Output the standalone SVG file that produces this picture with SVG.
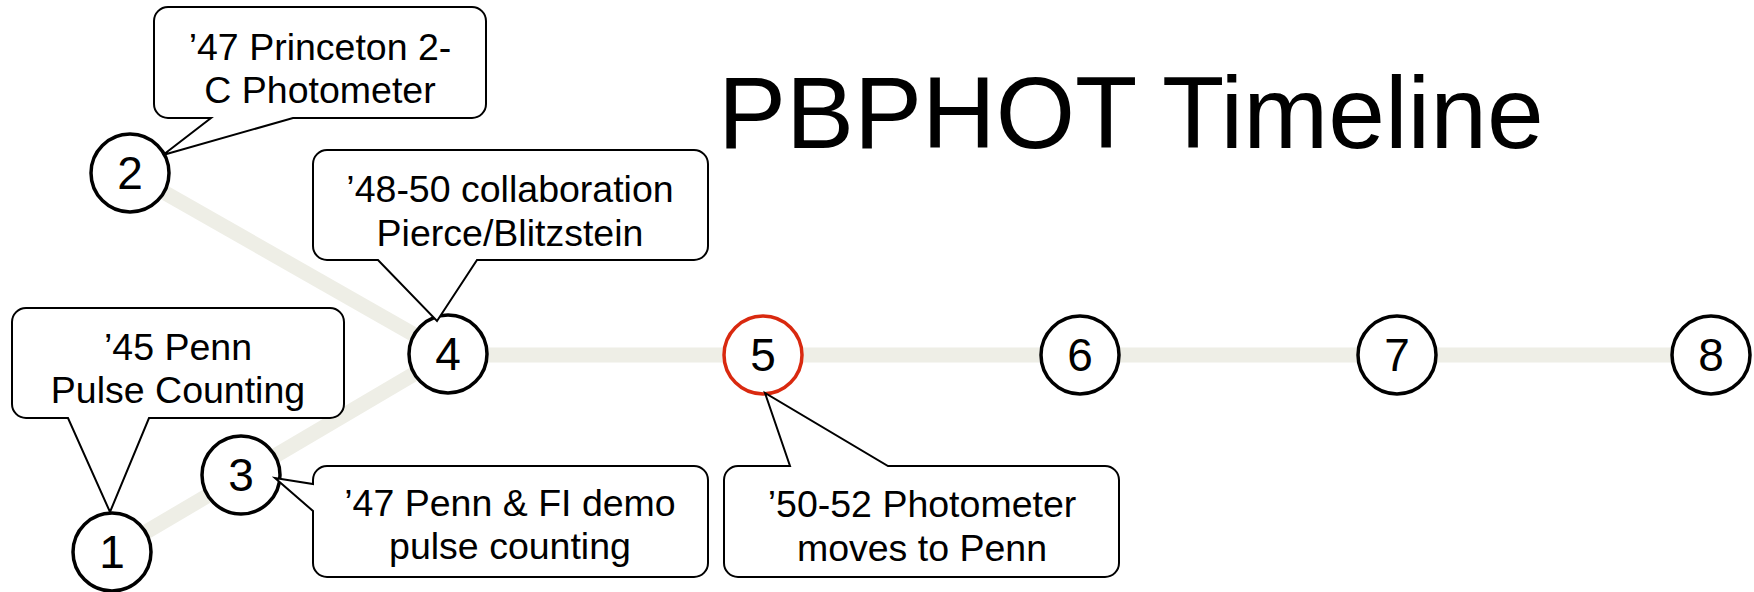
<svg xmlns="http://www.w3.org/2000/svg" width="1754" height="592" viewBox="0 0 1754 592">
<style>
.link{stroke:#eeeee6;stroke-width:15;fill:none}
.node circle{fill:#fff;stroke:#000;stroke-width:3.5}
.node.hl circle{stroke:#d9290f}
.num{font-family:"Liberation Sans",Arial,sans-serif;font-size:46px;text-anchor:middle;fill:#000}
.callout path{fill:#fff;stroke:#000;stroke-width:2;stroke-linejoin:miter}
.callout text{font-family:"Liberation Sans",Arial,sans-serif;font-size:37.5px;text-anchor:middle;fill:#000}
.title{font-family:"Liberation Sans",Arial,sans-serif;font-size:102px;fill:#000}
</style>
<rect width="1754" height="592" fill="#fff"/>
<g id="connectors">
<line class="link" x1="112" y1="552" x2="448" y2="354"/>
<line class="link" x1="130" y1="173" x2="448" y2="354"/>
<line class="link" x1="448" y1="355" x2="1711" y2="355"/>
</g>
<text class="title" x="718" y="148">PBPHOT Timeline</text>
<g id="node1" class="node"><circle cx="112" cy="552" r="39"/><text class="num" x="112" y="568">1</text></g>
<g id="node2" class="node"><circle cx="130" cy="173" r="39"/><text class="num" x="130" y="189">2</text></g>
<g id="node3" class="node"><circle cx="241" cy="475" r="39"/><text class="num" x="241" y="491">3</text></g>
<g id="node4" class="node"><circle cx="448" cy="354" r="39"/><text class="num" x="448" y="370">4</text></g>
<g id="node5" class="node hl"><circle cx="763" cy="355" r="39"/><text class="num" x="763" y="371">5</text></g>
<g id="node6" class="node"><circle cx="1080" cy="355" r="39"/><text class="num" x="1080" y="371">6</text></g>
<g id="node7" class="node"><circle cx="1397" cy="355" r="39"/><text class="num" x="1397" y="371">7</text></g>
<g id="node8" class="node"><circle cx="1711" cy="355" r="39"/><text class="num" x="1711" y="371">8</text></g>
<g id="callout1" class="callout">
<path d="M26,308 H330 A14,14 0 0 1 344,322 V404 A14,14 0 0 1 330,418 H149 L110,512 L68,418 H26 A14,14 0 0 1 12,404 V322 A14,14 0 0 1 26,308 Z"/>
<text x="178" y="360">’45 Penn</text>
<text x="178" y="403">Pulse Counting</text>
</g>
<g id="callout2" class="callout">
<path d="M168,7 H472 A14,14 0 0 1 486,21 V104 A14,14 0 0 1 472,118 H293 L163,155 L211,118 H168 A14,14 0 0 1 154,104 V21 A14,14 0 0 1 168,7 Z"/>
<text x="320" y="60">’47 Princeton 2-</text>
<text x="320" y="103">C Photometer</text>
</g>
<g id="callout4" class="callout">
<path d="M327,150 H694 A14,14 0 0 1 708,164 V246 A14,14 0 0 1 694,260 H477 L437,321 L378,260 H327 A14,14 0 0 1 313,246 V164 A14,14 0 0 1 327,150 Z"/>
<text x="510" y="202">’48-50 collaboration</text>
<text x="510" y="246">Pierce/Blitzstein</text>
</g>
<g id="callout3" class="callout">
<path d="M327,466 H694 A14,14 0 0 1 708,480 V563 A14,14 0 0 1 694,577 H327 A14,14 0 0 1 313,563 V511 L275,478 L313,484 V480 A14,14 0 0 1 327,466 Z"/>
<text x="510" y="516">’47 Penn &amp; FI demo</text>
<text x="510" y="559">pulse counting</text>
</g>
<g id="callout5" class="callout">
<path d="M738,466 H790 L765,393 L888,466 H1105 A14,14 0 0 1 1119,480 V563 A14,14 0 0 1 1105,577 H738 A14,14 0 0 1 724,563 V480 A14,14 0 0 1 738,466 Z"/>
<text x="922" y="517">’50-52 Photometer</text>
<text x="922" y="561">moves to Penn</text>
</g>
</svg>
